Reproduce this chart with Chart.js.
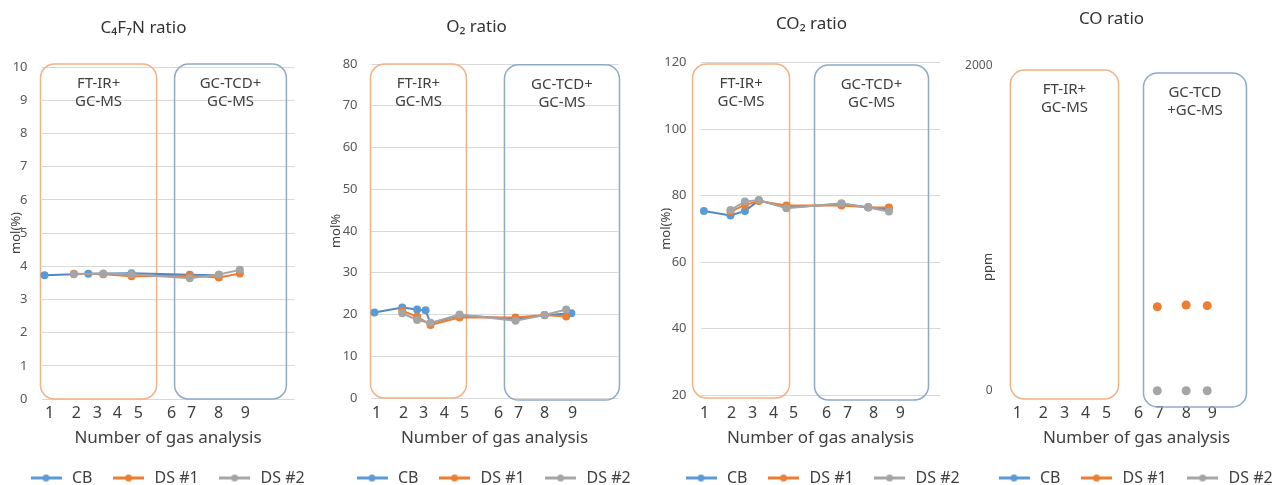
<!DOCTYPE html>
<html><head><meta charset="utf-8">
<script src="https://cdn.jsdelivr.net/npm/chart.js@4.4.1/dist/chart.umd.min.js"></script>
<style>
html,body{margin:0;padding:0;background:#fff;overflow:hidden;width:1286px;height:485px;}
.panel{position:absolute;top:0;width:360px;height:496px;}
</style></head><body>
<div class="panel" id="p1"><canvas></canvas></div>
<div class="panel" id="p2"><canvas></canvas></div>
<div class="panel" id="p3"><canvas></canvas></div>
<div class="panel" id="p4"><canvas></canvas></div>
<script>
// ---------- data ----------
const seriesNames = ['CB', 'DS #1', 'DS #2'];
const xTickLabels = ['1', '2', '3', '4', '5', '6', '7', '8', '9'];
const panelTitles = ['C\u2084F\u2087N ratio', 'O\u2082 ratio', 'CO\u2082 ratio', 'CO ratio'];
const yTitles = ['mol(%)', 'mol%', 'mol(%)', 'ppm'];
const boxTextLeft = ['FT-IR+', 'GC-MS'];
const boxTextRight = ['GC-TCD+', 'GC-MS'];
const boxTextRightCO = ['GC-TCD', '+GC-MS'];

// x positions of tick labels 1..9 (axis units 0-100, labels unevenly placed)
const c4f7nTickPos = [3.2, 13.8, 22.1, 30.0, 38.3, 51.4, 59.3, 70.0, 80.6];
const o2TickPos = [2.4, 13.3, 21.4, 29.8, 37.9, 51.6, 59.7, 70.2, 81.5];
const co2TickPos = [1.7, 12.9, 21.7, 30.4, 38.75, 52.5, 61.25, 72.1, 83.3];
const coTickPos = [4.2, 14.2, 22.3, 30.4, 38.5, 50.8, 58.8, 69.2, 79.2];

// C4F7N (mol %)
const c4f7nCB = [[1.2, 3.73], [18.5, 3.77], [35.6, 3.79], [58.6, 3.74], [70.1, 3.73]];
const c4f7nDS1 = [[12.8, 3.77], [24.4, 3.76], [35.6, 3.70], [58.6, 3.71], [70.1, 3.66], [78.4, 3.78]];
const c4f7nDS2 = [[12.8, 3.76], [24.4, 3.78], [35.6, 3.76], [58.6, 3.64], [70.1, 3.75], [78.4, 3.89]];
// O2 (mol %)
const o2CB = [[1.6, 20.5], [12.8, 21.7], [18.8, 21.2], [22.2, 21.0], [24.2, 17.9], [35.9, 19.8], [58.5, 18.9], [70.2, 19.8], [81.0, 20.3]];
const o2DS1 = [[12.8, 20.9], [18.8, 19.5], [24.2, 17.5], [35.9, 19.3], [58.5, 19.3], [70.2, 19.9], [78.9, 19.5]];
const o2DS2 = [[12.8, 20.3], [18.8, 18.7], [24.2, 18.0], [35.9, 20.0], [58.5, 18.5], [70.2, 19.9], [78.9, 21.2]];
// CO2 (mol %)
const co2CB = [[1.4, 75.4], [12.5, 74.0], [18.5, 75.4], [24.3, 78.5], [35.8, 76.4], [58.75, 77.5], [69.9, 76.5], [78.5, 75.8]];
const co2DS1 = [[12.5, 75.2], [18.5, 77.2], [24.3, 78.4], [35.8, 77.0], [58.75, 77.0], [69.9, 76.5], [78.5, 76.4]];
const co2DS2 = [[12.5, 75.7], [18.5, 78.2], [24.3, 78.7], [35.8, 76.2], [58.75, 77.7], [69.9, 76.4], [78.5, 75.2]];
// CO (ppm)
const coCB = [];
const coDS1 = [[58.0, 517], [69.1, 528], [77.2, 524]];
const coDS2 = [[58.0, 0], [69.1, 0], [77.2, 0]];

// method boxes: [xFrom, xTo, yFrom, yTo] in axis units
const c4f7nBoxes = [[-0.4, 45.5, 0, 10.09], [52.6, 96.8, 0, 10.09]];
const o2Boxes = [[0, 38.7, 0, 80], [54.0, 100.4, -0.5, 79.8]];
const co2Boxes = [[-3.3, 37.1, 19.1, 119.6], [47.5, 95.0, 18.5, 119.3]];
const coBoxes = [[1.5, 43.1, -51, 1975], [52.7, 92.3, -100, 1957]];

// ---------- styling ----------
Chart.defaults.font.family = '"Noto Sans", "Open Sans", sans-serif';
const markerColors = ['#5B9BD5', '#ED7D31', '#A5A5A5'];
const lineColors = ['#4F87C8', '#ED7D31', '#A5A5A5'];
const boxColors = ['#F4B183', '#8FA9C9'];
const EXTRA = 40; // canvas extends this far left of the y-axis box

function glyph(color) {
  const c = document.createElement('canvas');
  c.width = 31; c.height = 9;
  const g = c.getContext('2d');
  g.strokeStyle = color; g.lineWidth = 3;
  g.beginPath(); g.moveTo(0, 4.5); g.lineTo(31, 4.5); g.stroke();
  g.fillStyle = color;
  g.beginPath(); g.arc(15.5, 4.5, 3.5, 0, Math.PI * 2); g.fill();
  return c;
}
const glyphs = markerColors.map(glyph);

function rrect(ctx, x, y, w, h, r) {
  ctx.beginPath();
  ctx.moveTo(x + r, y);
  ctx.arcTo(x + w, y, x + w, y + h, r);
  ctx.arcTo(x + w, y + h, x, y + h, r);
  ctx.arcTo(x, y + h, x, y, r);
  ctx.arcTo(x, y, x + w, y, r);
  ctx.closePath();
}

const decor = {
  id: 'decor',
  afterLayout(chart, args, o) {
    // give the y tick labels more room to the left (label clip area only)
    if (o.labelRoom) chart.scales.y.left -= o.labelRoom;
  },
  beforeDatasetsDraw(chart, args, o) {
    const {ctx} = chart;
    const xs = chart.scales.x, ys = chart.scales.y;
    ctx.save();
    o.boxes.forEach((b, i) => {
      const l = xs.getPixelForValue(b[0]), r = xs.getPixelForValue(b[1]);
      const t = ys.getPixelForValue(b[3]), btm = ys.getPixelForValue(b[2]);
      rrect(ctx, l, t, r - l, btm - t, 14);
      ctx.strokeStyle = boxColors[i];
      ctx.lineWidth = 1.5;
      ctx.stroke();
      ctx.fillStyle = '#404040';
      ctx.font = '15px "Noto Sans", sans-serif';
      ctx.textAlign = 'center';
      ctx.textBaseline = 'middle';
      o.texts[i].forEach((s, k) => ctx.fillText(s, (l + r) / 2, t + 20 + k * 18));
    });
    ctx.restore();
  },
  afterDraw(chart, args, o) {
    const {ctx} = chart;
    ctx.save();
    ctx.fillStyle = '#333333';
    ctx.font = '17px "Noto Sans", sans-serif';
    ctx.textAlign = 'center';
    ctx.textBaseline = 'middle';
    ctx.fillText(o.title, o.titleX, o.titleY);
    if (o.yText) {
      ctx.translate(o.yText.x, o.yText.y);
      ctx.rotate(-Math.PI / 2);
      ctx.font = '13px "Noto Sans", sans-serif';
      ctx.fillStyle = '#404040';
      ctx.fillText(o.yText.text, 0, 0);
    }
    ctx.restore();
  }
};

function makePanel(cfg) {
  const wrap = document.getElementById(cfg.id);
  const originX = cfg.left - EXTRA;
  wrap.style.left = originX + 'px';
  const canvas = wrap.querySelector('canvas');
  const datasets = seriesNames.map((name, i) => ({
    label: name,
    data: cfg.series[i].map(([x, y]) => ({x, y})),
    borderColor: lineColors[i],
    backgroundColor: markerColors[i],
    pointBackgroundColor: markerColors[i],
    pointBorderColor: markerColors[i],
    pointBorderWidth: 0,
    pointRadius: cfg.pointRadius,
    borderWidth: 2,
    showLine: cfg.showLine,
    tension: 0,
    clip: false,
    order: 3 - i
  }));
  new Chart(canvas, {
    type: 'line',
    data: {datasets},
    options: {
      responsive: true,
      maintainAspectRatio: false,
      animation: false,
      events: [],
      layout: {padding: {top: cfg.top, left: EXTRA, right: 0, bottom: 0}},
      scales: {
        x: {
          type: 'linear', min: 0, max: 100,
          afterBuildTicks: s => { s.ticks = cfg.tickPos.map(v => ({value: v})); },
          afterFit: s => { s.height = 452 - cfg.bottom; },
          ticks: {autoSkip: false, maxRotation: 0, padding: cfg.xPad,
            callback: (v, i) => xTickLabels[i], font: {size: 16}, color: '#404040'},
          grid: {display: false, drawTicks: false},
          border: {display: false},
          title: {display: true, text: 'Number of gas analysis', font: {size: 17}, color: '#404040',
            padding: {top: 0, bottom: 3.8}}
        },
        y: {
          type: 'linear', min: cfg.yMin, max: cfg.yMax,
          afterFit: s => { s.width = cfg.yW; },
          ticks: {stepSize: cfg.yStep, padding: cfg.yTickPad, font: {size: cfg.yTickSize}, color: '#595959',
            callback: v => String(v)},
          grid: {display: cfg.grid, color: '#D9D9D9', lineWidth: 1, drawTicks: false},
          border: {display: false},
          title: {display: cfg.yTitleAxis, text: cfg.yTitle, font: {size: 13}, color: '#404040',
            padding: {top: cfg.yTitlePad, bottom: 0}}
        },
        yR: {
          type: 'linear', position: 'right', display: true,
          afterFit: s => { s.width = cfg.rightW; },
          ticks: {display: false}, grid: {display: false, drawTicks: false}, border: {display: false}
        }
      },
      plugins: {
        tooltip: {enabled: false},
        title: {display: false},
        legend: {
          position: 'bottom', align: 'start',
          labels: {
            usePointStyle: true, pointStyleWidth: 36, padding: 18,
            font: {size: 16}, color: '#404040',
            generateLabels: chart => {
              const items = Chart.defaults.plugins.legend.labels.generateLabels(chart);
              items.sort((a, b) => a.datasetIndex - b.datasetIndex);
              items.forEach(it => { it.pointStyle = glyphs[it.datasetIndex]; });
              return items;
            }
          }
        },
        decor: {
          boxes: cfg.boxes, texts: cfg.texts, labelRoom: cfg.labelRoom || 0,
          title: cfg.title, titleX: cfg.titleX - originX, titleY: cfg.titleY,
          yText: cfg.yText ? {text: cfg.yTitle, x: cfg.yText[0] - originX, y: cfg.yText[1]} : null
        }
      }
    },
    plugins: [decor]
  });
}

makePanel({id: 'p1', left: 9.5, top: 67, bottom: 399, yW: 31.5, rightW: 35.5,
  series: [c4f7nCB, c4f7nDS1, c4f7nDS2], tickPos: c4f7nTickPos, showLine: true, pointRadius: 4,
  yMin: 0, yMax: 10, yStep: 1, yTickSize: 13, yTickPad: 14, grid: true,
  yTitle: yTitles[0], yTitleAxis: true, yTitlePad: -1.3, xPad: 4.4,
  boxes: c4f7nBoxes, texts: [boxTextLeft, boxTextRight],
  title: panelTitles[0], titleX: 143, titleY: 28});

makePanel({id: 'p2', left: 335.5, top: 64, bottom: 398, yW: 34.5, rightW: 37.5,
  series: [o2CB, o2DS1, o2DS2], tickPos: o2TickPos, showLine: true, pointRadius: 4,
  yMin: 0, yMax: 80, yStep: 10, yTickSize: 13, yTickPad: 13, grid: true,
  yTitle: yTitles[1], yTitleAxis: true, yTitlePad: -7.8, xPad: 5.4,
  boxes: o2Boxes, texts: [boxTextLeft, boxTextRight],
  title: panelTitles[1], titleX: 476, titleY: 27.5});

makePanel({id: 'p3', left: 664.5, top: 62.7, bottom: 395, yW: 35.5, rightW: 44.5,
  series: [co2CB, co2DS1, co2DS2], tickPos: co2TickPos, showLine: true, pointRadius: 4,
  yMin: 20, yMax: 120, yStep: 20, yTickSize: 13, yTickPad: 14, grid: true,
  yTitle: yTitles[2], yTitleAxis: true, yTitlePad: -6.3, xPad: 8.4,
  boxes: co2Boxes, texts: [boxTextLeft, boxTextRight],
  title: panelTitles[2], titleX: 811, titleY: 24});

makePanel({id: 'p4', left: 977.5, top: 66, bottom: 390.7, yW: 28.5, rightW: 31.5,
  series: [coCB, coDS1, coDS2], tickPos: coTickPos, showLine: false, pointRadius: 4.5,
  yMin: 0, yMax: 2000, yStep: 2000, yTickSize: 12, yTickPad: 14, grid: false, labelRoom: 30,
  yTitle: yTitles[3], yTitleAxis: false, yTitlePad: 0, xPad: 12.7, yText: [987.5, 267],
  boxes: coBoxes, texts: [boxTextLeft, boxTextRightCO],
  title: panelTitles[3], titleX: 1111, titleY: 19});
</script>
</body></html>
